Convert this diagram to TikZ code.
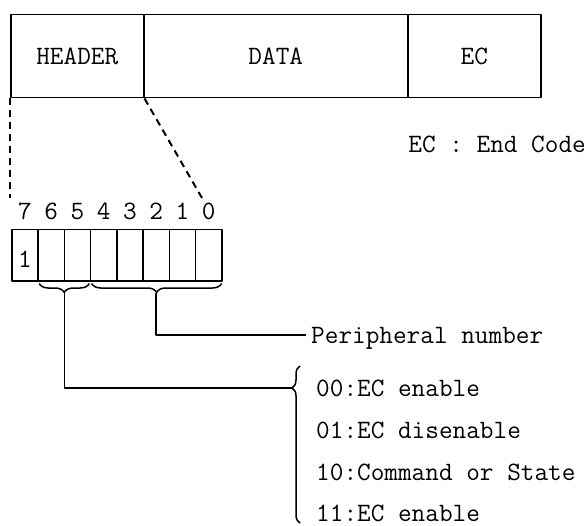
\documentclass[tikz,border=0pt]{standalone}
\usetikzlibrary{decorations.pathreplacing,calc}
\begin{document}
\begin{tikzpicture}[x=1pt,y=-1pt,
  ink/.style={line width=1.5pt, line join=round},
  txt/.style={font=\fontsize{26.5}{30}\selectfont\ttfamily, inner sep=0pt, text height=16pt, text depth=0pt},
  cell/.style={ink, draw, inner sep=0pt, txt},
  bitbox/.style={ink, draw, inner sep=0pt, minimum width=26.25pt, minimum height=51pt, anchor=north west},
  dashline/.style={line width=2pt, dash pattern=on 7pt off 5pt},
  bracedeco/.style={ink, decorate}]
\useasboundingbox (0,0) rectangle (588,526);
% packet
\node[cell, minimum width=133pt, minimum height=83pt, anchor=north west] (hdr) at (10,14) {HEADER};
\node[cell, minimum width=264pt, minimum height=83pt, anchor=north west] (dat) at (143,14) {DATA};
\node[cell, minimum width=133pt, minimum height=83pt, anchor=north west] (ecb) at (407,14) {EC};
\node[txt, anchor=east] (ecnote) at (586,145) {EC : End Code};
% bit boxes
\foreach \i [count=\k from 0] in {7,6,5,4,3,2,1,0} {
  \node[bitbox] (b\i) at ({11+26.25*\k},229) {};
  \node[txt] (n\i) at ($(b\i.north)+(0,-17)$) {\i};
}
\node[txt] (one) at ($(b7.center)+(0,4)$) {1};
% dashed expansion lines
\coordinate (d1) at (10,198);
\coordinate (d2) at (202,198);
\draw[dashline] (hdr.south west) -- (d1);
\draw[dashline] (hdr.south east) -- (d2);
% braces under bits
\draw[bracedeco, decoration={brace, mirror, amplitude=9pt, raise=2pt}] ($(b6.south west)+(2,0)$) -- ($(b5.south east)+(-2,0)$);
\draw[bracedeco, decoration={brace, mirror, amplitude=9pt, raise=2pt}] ($(b4.south west)+(2,0)$) -- ($(b0.south east)+(-1,0)$);
\coordinate (t1) at ($(b6.south west)!0.5!(b5.south east)+(0,11)$);
\coordinate (t2) at ($(b4.south west)!0.5!(b0.south east)+(0,11)$);
% peripheral number
\node[txt, anchor=west] (per) at (311,335) {Peripheral number};
\draw[ink] (t2) |- ([xshift=-5pt]per.west);
% big brace and list
\coordinate (bb) at (300,523);
\coordinate (btop) at (300,366);
\coordinate (btip) at (292,388);
\draw[bracedeco, decoration={brace, amplitude=8pt, aspect=0.86}] (bb) -- (btop);
\draw[ink] (t1) |- (btip);
\node[txt, anchor=west] (l0) at (316,388) {00:EC enable};
\node[txt, anchor=west] (l1) at (316,430) {01:EC disenable};
\node[txt, anchor=west] (l2) at (316,472) {10:Command or State};
\node[txt, anchor=west] (l3) at (316,513) {11:EC enable};
\end{tikzpicture}
\end{document}
